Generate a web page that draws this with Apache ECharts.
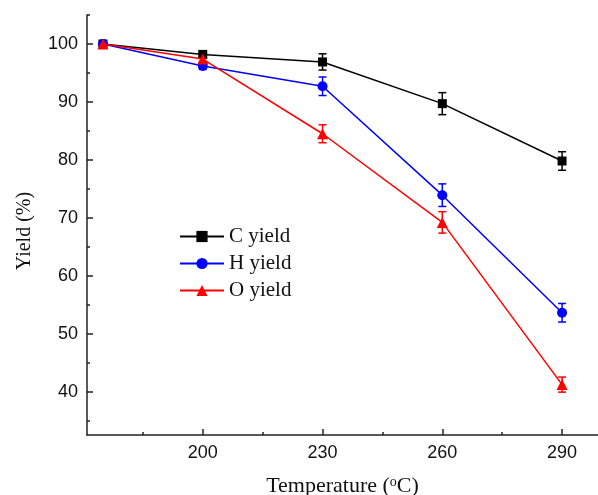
<!DOCTYPE html>
<html>
<head>
<meta charset="utf-8">
<script src="https://cdn.jsdelivr.net/npm/echarts@6/dist/echarts.min.js"></script>
<style>
  html, body { margin: 0; padding: 0; background: #fff; }
  #chartDiv { width: 598px; height: 495px; }
</style>
</head>
<body>
<div id="chartDiv"></div>
<script>
// temperature points (the first one is the untreated sample, no tick label)
const temps = [175, 200, 230, 260, 290];
const cYield = [100, 98.2, 96.9, 89.7, 79.8];
const cErr = [0.3, 0.5, 1.4, 1.9, 1.6];
const hYield = [100, 96.2, 92.7, 73.9, 53.6];
const hErr = [0.3, 0.6, 1.6, 1.95, 1.6];
const oYield = [100, 97.4, 84.5, 69.2, 41.2];
const oErr = [0.3, 0.6, 1.55, 1.85, 1.3];

const xMajor = [200, 230, 260, 290];
const xMinor = [185, 215, 245, 275];
const yMajor = [40, 50, 60, 70, 80, 90, 100];
const yMinor = [35, 45, 55, 65, 75, 85, 95, 105];

let chart = echarts.init(document.getElementById("chartDiv"));

function pairs(vals) {
    return temps.map((t, i) => [t, vals[i]]);
}

function bars(vals, errs) {
    return temps.map((t, i) => [t, vals[i] - errs[i], vals[i] + errs[i]]);
}

function errRender(color) {
    return function (params, api) {
        let x = api.value(0);
        let lo = api.coord([x, api.value(1)]);
        let hi = api.coord([x, api.value(2)]);
        let w = 4;
        let st = { stroke: color, lineWidth: 1.5 };
        return {
            type: "group",
            children: [
                { type: "line", shape: { x1: lo[0], y1: lo[1], x2: hi[0], y2: hi[1] }, style: st },
                { type: "line", shape: { x1: lo[0] - w, y1: lo[1], x2: lo[0] + w, y2: lo[1] }, style: st },
                { type: "line", shape: { x1: hi[0] - w, y1: hi[1], x2: hi[0] + w, y2: hi[1] }, style: st },
            ],
        };
    };
}

const axisColor = "#222";

let options = {
    animation: false,
    grid: {
        left: 87,
        right: 0,
        top: 15,
        bottom: 60,
        outerBoundsMode: "none",
        containLabel: false,
    },
    legend: {
        data: ["C yield", "H yield", "O yield"],
        orient: "vertical",
        left: 174,
        top: 221,
        itemWidth: 44,
        itemHeight: 14,
        itemGap: 6,
        textStyle: {
            fontFamily: "Liberation Serif",
            fontSize: 21,
            color: "#111",
        },
    },
    xAxis: [
        {
            type: "value",
            min: 171,
            max: 299,
            name: "{a|Temperature (}{s|o}{a|C)}",
            nameLocation: "middle",
            nameGap: 40,
            nameTextStyle: {
                rich: {
                    a: { fontFamily: "Liberation Serif", fontSize: 22, color: "#111" },
                    s: { fontFamily: "Liberation Serif", fontSize: 14, color: "#111", verticalAlign: "top", padding: [0, 0, 8, 0] },
                },
            },
            axisLine: { lineStyle: { color: axisColor, width: 1.5 } },
            axisTick: { inside: true, length: 6, customValues: xMajor, lineStyle: { color: axisColor, width: 1.5 } },
            axisLabel: {
                customValues: xMajor,
                margin: 9,
                fontFamily: "Liberation Sans",
                fontSize: 18,
                color: "#111",
            },
            splitLine: { show: false },
        },
        {
            type: "value",
            min: 171,
            max: 299,
            position: "bottom",
            axisLine: { show: false },
            axisTick: { inside: true, length: 3, customValues: xMinor, lineStyle: { color: axisColor, width: 1.5 } },
            axisLabel: { show: false },
            splitLine: { show: false },
        },
    ],
    yAxis: [
        {
            type: "value",
            min: 32.5,
            max: 105,
            axisLine: { show: true, lineStyle: { color: axisColor, width: 1.5 } },
            axisTick: { show: true, inside: true, length: 6, customValues: yMajor, lineStyle: { color: axisColor, width: 1.5 } },
            axisLabel: {
                customValues: yMajor,
                margin: 9,
                fontFamily: "Liberation Sans",
                fontSize: 18,
                color: "#111",
            },
            splitLine: { show: false },
        },
        {
            type: "value",
            min: 32.5,
            max: 105,
            position: "left",
            axisLine: { show: false },
            axisTick: { show: true, inside: true, length: 3, customValues: yMinor, lineStyle: { color: axisColor, width: 1.5 } },
            axisLabel: { show: false },
            splitLine: { show: false },
        },
    ],
    graphic: [
        {
            type: "text",
            x: 25,
            y: 231,
            rotation: Math.PI / 2,
            style: {
                text: "Yield (%)",
                textAlign: "center",
                textVerticalAlign: "middle",
                font: "20px 'Liberation Serif'",
                fill: "#111",
            },
        },
    ],
    series: [
        {
            name: "C yield",
            type: "line",
            data: pairs(cYield),
            symbol: "rect",
            symbolSize: 9,
            color: "#000",
            lineStyle: { color: "#000", width: 1.5 },
            itemStyle: { color: "#000" },
            z: 3,
        },
        {
            name: "H yield",
            type: "line",
            data: pairs(hYield),
            symbol: "circle",
            symbolSize: 10,
            color: "#0000ff",
            lineStyle: { color: "#0000ff", width: 1.5 },
            itemStyle: { color: "#0000ff" },
            z: 4,
        },
        {
            name: "O yield",
            type: "line",
            data: pairs(oYield),
            symbol: "triangle",
            symbolSize: 11,
            color: "#ff0000",
            lineStyle: { color: "#ff0000", width: 1.5 },
            itemStyle: { color: "#ff0000" },
            z: 5,
        },
        { type: "custom", renderItem: errRender("#000"), data: bars(cYield, cErr), z: 2 },
        { type: "custom", renderItem: errRender("#0000ff"), data: bars(hYield, hErr), z: 2 },
        { type: "custom", renderItem: errRender("#ff0000"), data: bars(oYield, oErr), z: 2 },
    ],
};

chart.setOption(options);
</script>
</body>
</html>
